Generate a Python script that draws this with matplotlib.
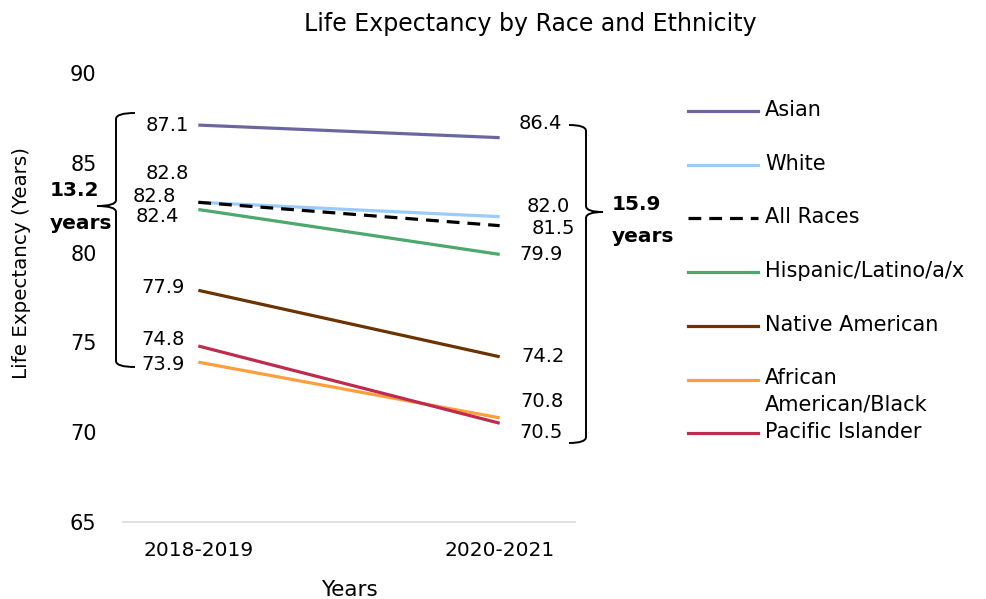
import matplotlib.pyplot as plt
from matplotlib.lines import Line2D
from matplotlib.path import Path
from matplotlib.patches import PathPatch

# Данные
periods = ['2018-2019', '2020-2021']
groups = ['Asian', 'White', 'All Races', 'Hispanic/Latino/a/x',
          'Native American', 'African\nAmerican/Black', 'Pacific Islander']
values_2018 = [87.1, 82.8, 82.8, 82.4, 77.9, 73.9, 74.8]
values_2020 = [86.4, 82.0, 81.5, 79.9, 74.2, 70.8, 70.5]
colors = ['#6A67A0', '#9CCBF7', '#000000', '#4CA86C', '#6B3300', '#FF9E3D', '#BE2B4C']
styles = ['-', '-', '--', '-', '-', '-', '-']

# Смещения подписей (пиксели)
left_offsets = [(-9, 0), (-9, 29), (-22, 6), (-19, -7), (-14, 3), (-14, -2), (-14, 6)]
right_offsets = [(19, 14), (27, 10), (32, -3), (20, 0), (22, 0), (21, 16), (20, -9)]

W, H = 986, 599
FONT = 'DejaVu Sans'


def fx(x):
    return x / W


def fy(y):
    return 1 - y / H


def draw_brace(fig, x, y0, y1, ymid, hook, tip, r=6):
    """Фигурная скобка в пикселях; hook > 0 — крючки вправо, tip < 0 — острие влево"""
    pts = [(x + hook, y0), (x, y0), (x, y0 + r),
           (x, ymid - r), (x, ymid), (x + tip, ymid),
           (x, ymid), (x, ymid + r),
           (x, y1 - r), (x, y1), (x + hook, y1)]
    codes = [Path.MOVETO, Path.CURVE3, Path.CURVE3,
             Path.LINETO, Path.CURVE3, Path.CURVE3,
             Path.CURVE3, Path.CURVE3,
             Path.LINETO, Path.CURVE3, Path.CURVE3]
    verts = [(fx(px), fy(py)) for px, py in pts]
    patch = PathPatch(Path(verts, codes), facecolor='none', edgecolor='black',
                      lw=1.4, transform=fig.transFigure)
    fig.add_artist(patch)


fig = plt.figure(figsize=(W / 100, H / 100), dpi=100)
ax = fig.add_axes([fx(123), fy(522), (575 - 123) / W, (522 - 73) / H])

x = [0, 1]
for i, name in enumerate(groups):
    ax.plot(x, [values_2018[i], values_2020[i]], color=colors[i],
            linestyle=styles[i], lw=2.3, dashes=(4, 2.5) if styles[i] == '--' else (None, None),
            solid_capstyle='butt')
    dx, dy = left_offsets[i]
    ax.annotate(f'{values_2018[i]:.1f}', (0, values_2018[i]), xytext=(dx, dy),
                textcoords='offset pixels', ha='right', va='center',
                fontsize=14, family=FONT)
    dx, dy = right_offsets[i]
    ax.annotate(f'{values_2020[i]:.1f}', (1, values_2020[i]), xytext=(dx, dy),
                textcoords='offset pixels', ha='left', va='center',
                fontsize=14, family=FONT)

ax.set_xlim(-0.25, 1.25)
ax.set_ylim(65, 90)
ax.set_xticks(x)
ax.set_xticklabels(periods, fontsize=14.5, family=FONT)
ax.set_yticks(range(65, 91, 5))
ax.set_yticklabels([str(v) for v in range(65, 91, 5)], fontsize=15, family=FONT)
ax.tick_params(axis='both', length=0)
ax.tick_params(axis='y', pad=19)
ax.tick_params(axis='x', pad=14)
for side in ['top', 'right', 'left']:
    ax.spines[side].set_visible(False)
ax.spines['bottom'].set_color('#D9D9D9')
ax.spines['bottom'].set_linewidth(1.2)

# Заголовок и подписи осей
fig.text(fx(530), fy(24), 'Life Expectancy by Race and Ethnicity',
         ha='center', va='center', fontsize=17, family=FONT)
fig.text(fx(22), fy(263), 'Life Expectancy (Years)', rotation=90,
         ha='center', va='center', fontsize=14.3, family=FONT)
fig.text(fx(349), fy(590), 'Years', ha='center', va='center', fontsize=15.5, family=FONT)

# Скобки с разницей
draw_brace(fig, 116, 113, 367, 206, 19, -19)
fig.text(fx(50), fy(190), '13.2', ha='left', va='center', fontsize=14.5,
         family=FONT, fontweight='bold')
fig.text(fx(50), fy(223), 'years', ha='left', va='center', fontsize=14.5,
         family=FONT, fontweight='bold')
draw_brace(fig, 586, 125, 443, 212, -17, 17)
fig.text(fx(612), fy(205), '15.9', ha='left', va='center', fontsize=14.5,
         family=FONT, fontweight='bold')
fig.text(fx(612), fy(237), 'years', ha='left', va='center', fontsize=14.5,
         family=FONT, fontweight='bold')

# Легенда вручную
for i, name in enumerate(groups):
    yy = 111 + i * 53.7
    fig.add_artist(Line2D([fx(688), fx(758)], [fy(yy), fy(yy)], color=colors[i],
                          lw=2.3, linestyle=styles[i],
                          dashes=(4, 2.5) if styles[i] == '--' else (None, None),
                          transform=fig.transFigure))
    fig.text(fx(765), fy(yy - 11), name, ha='left', va='top', fontsize=15,
             family=FONT, linespacing=1.35)

plt.savefig('out.png', dpi=100)
